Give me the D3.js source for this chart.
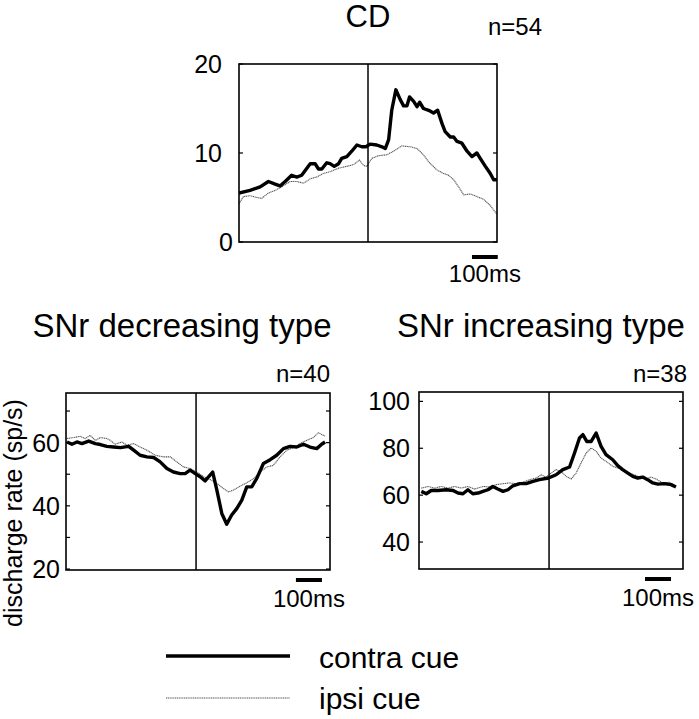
<!DOCTYPE html>
<html>
<head>
<meta charset="utf-8">
<script src="https://cdn.jsdelivr.net/npm/d3@7"></script>
<style>
  html, body { margin: 0; padding: 0; background: #fff; }
  svg { display: block; font-family: "Liberation Sans", Arial, Helvetica, sans-serif; }
</style>
</head>
<body>
<svg id="chart" width="699" height="719"></svg>
<script>
// ---------------- DATA ----------------
// CD panel (time in ms relative to cue, rate in sp/s)
const cdContraT = [-500,-457,-418,-386,-360,-341,-321,-296,-276,-257,-224,-205,-192,-179,-160,-147,-131,-114,-102,-82,-63,-43,-24,-8,8,34,54,67,80,92,108,125,138,151,161,177,190,200,215,235,254,270,287,299,319,332,345,364,384,403,422,435,455,474,487,500];
const cdContraV = [5.5,5.8,6.2,6.8,6.5,6.3,6.8,7.5,7.3,7.5,8.8,8.8,8.2,8.2,8.9,8.8,8.5,8.8,9.4,9.6,10.2,10.9,10.7,10.7,11.0,10.9,10.7,10.5,11.5,14.8,17.1,16.0,15.3,15.3,16.3,15.8,15.2,15.7,15.0,14.8,14.5,14.8,13.3,12.4,11.8,11.8,11.3,11.1,10.2,9.6,10.0,9.4,8.5,7.7,7.0,7.0];
const cdIpsiT = [-500,-483,-457,-431,-412,-386,-360,-334,-302,-276,-250,-224,-199,-173,-147,-114,-82,-56,-33,-17,-5,15,41,73,99,131,164,190,215,235,267,293,312,332,351,371,397,422,448,474,500];
const cdIpsiV = [4.3,5.1,5.2,5.0,4.9,5.5,5.8,6.2,6.8,6.8,6.6,7.1,7.3,7.7,7.9,8.3,8.5,8.7,9.2,8.6,8.5,9.4,9.7,9.8,10.2,10.8,10.7,10.5,9.8,9.0,8.1,7.7,7.5,7.0,6.2,5.3,5.4,5.1,4.8,4.1,3.1];

// SNr decreasing type
const decContraT = [-496,-477,-458,-439,-413,-387,-368,-343,-317,-291,-259,-240,-215,-189,-163,-138,-112,-87,-61,-42,-23,-3,16,35,48,64,80,99,118,137,157,176,195,214,233,259,285,310,336,361,387,413,438,464,483,496];
const decContraV = [60.2,59.5,60.2,59.7,60.5,59.7,59.4,58.8,58.6,58.4,58.8,57.6,56.0,55.5,55.3,53.9,51.8,50.7,50.2,50.2,51.3,50.2,49.2,47.9,49.2,50.7,45.0,37.6,34.2,37.1,39.2,41.8,46.0,46.0,48.6,53.4,54.6,56.0,58.1,58.8,58.6,59.5,58.6,58.1,59.5,60.2];
const decIpsiT = [-496,-471,-445,-426,-407,-387,-368,-343,-330,-311,-285,-266,-240,-215,-189,-157,-125,-99,-74,-48,-23,3,29,54,80,105,125,144,169,195,221,246,272,297,323,349,374,400,425,451,470,483,496];
const decIpsiV = [61.3,61.6,62.0,61.3,62.3,60.7,61.6,61.3,60.7,59.5,60.2,59.2,59.7,58.6,57.6,56.0,55.5,55.5,53.9,52.3,51.8,50.7,49.2,48.3,47.1,45.5,44.4,45.0,46.2,47.3,48.6,50.7,52.3,52.8,55.5,57.6,58.4,59.7,60.7,61.6,63.1,62.6,62.1];

// SNr increasing type
const incContraT = [-491,-472,-453,-427,-395,-369,-350,-331,-312,-293,-273,-254,-235,-216,-197,-177,-158,-139,-113,-88,-62,-37,-2,27,53,79,98,117,130,145,162,181,200,219,245,264,283,303,322,341,360,379,399,418,443,469,488];
const incContraV = [61.6,60.6,62.0,62.0,62.3,62.0,60.9,60.6,62.3,60.6,60.9,61.6,62.3,63.7,62.6,61.6,62.3,64.0,64.9,64.9,65.9,66.6,67.3,68.7,70.9,72.0,78.0,84.4,85.8,82.9,82.9,86.5,80.8,77.3,75.1,72.6,70.9,69.4,68.0,67.3,67.7,66.6,65.2,64.7,64.9,64.5,63.5];
const incIpsiT = [-491,-465,-440,-414,-389,-363,-337,-312,-286,-254,-229,-203,-177,-152,-126,-101,-75,-49,-30,-11,8,27,47,66,85,104,123,143,162,181,200,219,245,264,283,309,328,347,373,392,411,437,463,488];
const incIpsiV = [63.0,63.7,63.0,63.7,63.0,63.7,63.0,63.7,62.6,63.7,63.5,64.5,64.9,65.2,64.9,65.5,66.6,67.3,68.7,67.7,69.4,70.9,70.0,68.0,66.9,69.4,73.7,78.0,80.1,78.7,75.8,74.4,72.3,71.6,70.9,69.4,68.7,67.7,66.9,67.7,66.9,65.2,65.5,63.7];

// Tick values and labels
const cdTicks = [0, 10, 20];
const cdMinorTicks = [];
const decTicks = [20, 40, 60];
const decMinorTicks = [30, 50, 70];
const incTicks = [40, 60, 80, 100];
const incMinorTicks = [];

const titles = ["CD", "SNr decreasing type", "SNr increasing type"];
const nLabels = ["n=54", "n=40", "n=38"];
const seriesNames = ["contra cue", "ipsi cue"];
const yAxisTitle = "discharge rate (sp/s)";
const scaleBarLabel = "100ms";
const scaleBarMs = 100;

// ---------------- LAYOUT ----------------
const svg = d3.select("#chart");

const panels = [
  { x0: 239, x1: 497, y0: 64, y1: 242, tDom: [-500, 500], yDom: [0, 20],
    ticks: cdTicks, minor: cdMinorTicks, labelGap: 17, zeroGap: 6,
    contra: [cdContraT, cdContraV], ipsi: [cdIpsiT, cdIpsiV],
    title: titles[0], titleX: 368, titleY: 27, titleSize: 31,
    n: nLabels[0], nX: 488, nY: 35, nAnchor: "start",
    barStart: 403, barDy: 15, barTextDy: 40 },
  { x0: 66, x1: 330, y0: 393, y1: 570, tDom: [-500, 515], yDom: [19.7, 75.7],
    ticks: decTicks, minor: decMinorTicks, labelGap: 6,
    contra: [decContraT, decContraV], ipsi: [decIpsiT, decIpsiV],
    title: titles[1], titleX: 182, titleY: 337, titleSize: 33,
    n: nLabels[1], nX: 330, nY: 382, nAnchor: "end",
    barStart: 384, barDy: 10, barTextDy: 37 },
  { x0: 419, x1: 683, y0: 392, y1: 569, tDom: [-500, 515], yDom: [28.5, 104],
    ticks: incTicks, minor: incMinorTicks, labelGap: 9,
    contra: [incContraT, incContraV], ipsi: [incIpsiT, incIpsiV],
    title: titles[2], titleX: 541, titleY: 337, titleSize: 33,
    n: nLabels[2], nX: 687, nY: 382, nAnchor: "end",
    barStart: 369, barDy: 10, barTextDy: 37 }
];

const contraStyle = { stroke: "#000", width: 3.4 };
const ipsiStyle = { stroke: "#555", width: 1.1 };

panels.forEach((p, i) => {
  const x = d3.scaleLinear().domain(p.tDom).range([p.x0, p.x1]);
  const y = d3.scaleLinear().domain(p.yDom).range([p.y1, p.y0]);
  const g = svg.append("g");

  const clipId = "clip" + i;
  svg.append("clipPath").attr("id", clipId)
    .append("rect").attr("x", p.x0).attr("y", p.y0)
    .attr("width", p.x1 - p.x0).attr("height", p.y1 - p.y0);

  // series
  const line = d3.line().x(d => x(d[0])).y(d => y(d[1]));
  const ipsiData = p.ipsi[0].map((t, k) => [t, p.ipsi[1][k]]);
  const contraData = p.contra[0].map((t, k) => [t, p.contra[1][k]]);
  g.append("path").datum(ipsiData).attr("d", line)
    .attr("fill", "none").attr("stroke", ipsiStyle.stroke)
    .attr("stroke-width", ipsiStyle.width).attr("stroke-dasharray", "1.2,0.6")
    .attr("clip-path", `url(#${clipId})`);
  g.append("path").datum(contraData).attr("d", line)
    .attr("fill", "none").attr("stroke", contraStyle.stroke)
    .attr("stroke-width", contraStyle.width).attr("stroke-linejoin", "round")
    .attr("clip-path", `url(#${clipId})`);

  // cue line
  g.append("line").attr("x1", x(0)).attr("x2", x(0))
    .attr("y1", p.y0).attr("y2", p.y1)
    .attr("stroke", "#000").attr("stroke-width", 1.5);

  // box
  g.append("rect").attr("x", p.x0).attr("y", p.y0)
    .attr("width", p.x1 - p.x0).attr("height", p.y1 - p.y0)
    .attr("fill", "none").attr("stroke", "#000").attr("stroke-width", 1.6);

  // ticks (inside, both sides)
  const allTicks = p.ticks.concat(p.minor);
  allTicks.forEach(v => {
    g.append("line").attr("x1", p.x0).attr("x2", p.x0 + 4)
      .attr("y1", y(v)).attr("y2", y(v)).attr("stroke", "#000").attr("stroke-width", 1.2);
    g.append("line").attr("x1", p.x1).attr("x2", p.x1 - 4)
      .attr("y1", y(v)).attr("y2", y(v)).attr("stroke", "#000").attr("stroke-width", 1.2);
  });
  p.ticks.forEach(v => {
    const gap = (v === 0 && p.zeroGap !== undefined) ? p.zeroGap : p.labelGap;
    g.append("text").attr("x", p.x0 - gap).attr("y", y(v))
      .attr("text-anchor", "end").attr("dominant-baseline", "central")
      .attr("font-size", 25).text(d3.format("d")(v));
  });

  // title and n
  svg.append("text").attr("x", p.titleX).attr("y", p.titleY)
    .attr("text-anchor", "middle").attr("font-size", p.titleSize).text(p.title);
  svg.append("text").attr("x", p.nX).attr("y", p.nY)
    .attr("text-anchor", p.nAnchor).attr("font-size", 24).text(p.n);

  // scale bar
  const bx0 = x(p.barStart), bx1 = x(p.barStart + scaleBarMs);
  g.append("line").attr("x1", bx0).attr("x2", bx1)
    .attr("y1", p.y1 + p.barDy).attr("y2", p.y1 + p.barDy)
    .attr("stroke", "#000").attr("stroke-width", 4);
  g.append("text").attr("x", (bx0 + bx1) / 2).attr("y", p.y1 + p.barTextDy)
    .attr("text-anchor", "middle").attr("font-size", 24).text(scaleBarLabel);
});

// y-axis title
svg.append("text").attr("transform", "translate(22,513) rotate(-90)")
  .attr("text-anchor", "middle").attr("font-size", 25).text(yAxisTitle);

// legend
const legend = svg.append("g");
const legendRows = [
  { name: seriesNames[0], style: contraStyle, y: 656, ty: 668, dash: null },
  { name: seriesNames[1], style: ipsiStyle, y: 698, ty: 709, dash: "1.2,0.6" }
];
legendRows.forEach(r => {
  legend.append("line").attr("x1", 166).attr("x2", 290)
    .attr("y1", r.y).attr("y2", r.y)
    .attr("stroke", r.style.stroke).attr("stroke-width", r.style.width)
    .attr("stroke-dasharray", r.dash);
  legend.append("text").attr("x", 319).attr("y", r.ty)
    .attr("font-size", 30).text(r.name);
});
</script>
</body>
</html>
